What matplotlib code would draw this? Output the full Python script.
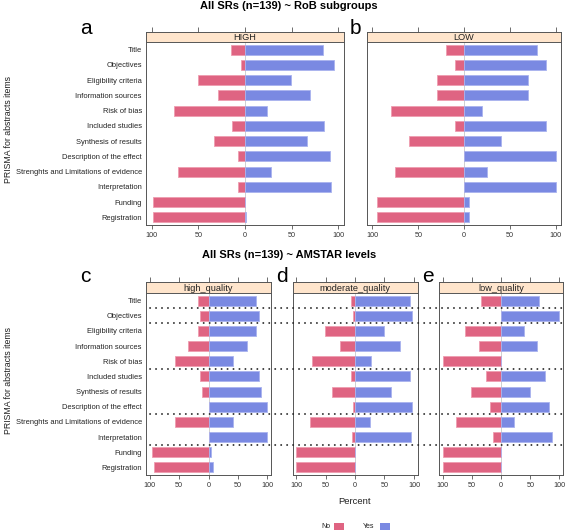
import matplotlib
matplotlib.use("Agg")
import matplotlib.pyplot as plt
from matplotlib.lines import Line2D
from matplotlib.patches import Rectangle
from matplotlib.transforms import blended_transform_factory

plt.rcParams['font.family'] = ['Liberation Sans', 'DejaVu Sans']

items = ["Title", "Objectives", "Eligibility criteria", "Information sources",
         "Risk of bias", "Included studies", "Synthesis of results",
         "Description of the effect", "Strenghts and Limitations of evidence",
         "Interpretation", "Funding", "Registration"]
# group separators (index after which a dotted line is drawn) for AMSTAR panels
group_breaks = [0, 1, 4, 7, 9]

# RoB subgroups
high_no = [15, 4, 50, 29, 76, 14, 33, 8, 72, 7, 99, 98]
high_yes = [84, 95, 49, 70, 24, 85, 66, 91, 28, 92, 0, 1]
low_no = [20, 10, 30, 30, 80, 10, 60, 0, 75, 0, 95, 95]
low_yes = [80, 90, 70, 70, 20, 90, 40, 100, 25, 100, 5, 5]

# AMSTAR levels
hq_no = [18, 15, 18, 34, 57, 15, 11, 0, 57, 0, 95, 92]
hq_yes = [81, 85, 81, 66, 42, 85, 89, 100, 42, 100, 5, 8]
mq_no = [7, 4, 51, 25, 73, 7, 39, 4, 76, 5, 100, 100]
mq_yes = [93, 97, 49, 76, 27, 93, 61, 97, 25, 95, 0, 0]
lq_no = [35, 0, 61, 38, 100, 25, 51, 19, 77, 13, 100, 100]
lq_yes = [65, 100, 39, 62, 0, 75, 49, 82, 23, 88, 0, 0]

tick_vals = [-100, -50, 0, 50, 100]
tick_labels = ["100", "50", "0", "50", "100"]

RED = "#DF6482"
BLUE = "#7A89E2"
RED_E = "#EE9DB0"
BLUE_E = "#A9B3EE"
STRIP = "#FFE5CC"
FRAME = "#555555"

W, H = 566, 530
fig = plt.figure(figsize=(W / 100, H / 100), dpi=100)


def box(x0, y0, x1, y1):
    return [x0 / W, 1 - y1 / H, (x1 - x0) / W, (y1 - y0) / H]


def panel(x0, x1, strip_top, strip_bot, plot_bot, name, no, yes, ylabels):
    sax = fig.add_axes(box(x0, strip_top, x1, strip_bot))
    sax.set_facecolor(STRIP)
    sax.set_xlim(-106, 106)
    sax.set_ylim(0, 1)
    sax.xaxis.tick_top()
    sax.set_xticks(tick_vals)
    sax.set_xticklabels([])
    sax.tick_params(axis='x', length=3.5, width=0.6, color=FRAME, direction='out')
    sax.set_yticks([])
    for s in sax.spines.values():
        s.set_color(FRAME)
        s.set_linewidth(0.7)
    sax.text(0, 0.45, name, ha='center', va='center', fontsize=6.6, color='#222222')

    ax = fig.add_axes(box(x0, strip_bot, x1, plot_bot))
    ypos = list(range(len(items)))
    ax.axvline(0, color='#C8C8C8', lw=0.6, zorder=1)
    ax.barh(ypos, [-v for v in no], height=0.66, color=RED, edgecolor=RED_E, lw=0.6, zorder=2)
    ax.barh(ypos, yes, height=0.66, color=BLUE, edgecolor=BLUE_E, lw=0.6, zorder=2)
    ax.set_xlim(-106, 106)
    ax.set_ylim(len(items) - 0.5, -0.5)
    ax.set_xticks(tick_vals)
    ax.set_xticklabels(tick_labels, fontsize=5.2, color='#333333')
    ax.tick_params(axis='x', length=3, width=0.6, color=FRAME, pad=2)
    ax.set_yticks(ypos)
    if ylabels:
        ax.set_yticklabels(items, fontsize=5.4, color='#222222')
    else:
        ax.set_yticklabels([])
    ax.tick_params(axis='y', length=0, pad=3)
    for s in ax.spines.values():
        s.set_color(FRAME)
        s.set_linewidth(0.7)
    return ax


# top row
axa = panel(146, 344, 32, 42, 225, "HIGH", high_no, high_yes, True)
axb = panel(367, 561, 32, 42, 225, "LOW", low_no, low_yes, False)

# bottom row
axc = panel(146, 271, 282, 293, 475, "high_quality", hq_no, hq_yes, True)
axd = panel(292.5, 417.5, 282, 293, 475, "moderate_quality", mq_no, mq_yes, False)
axe = panel(439, 563, 282, 293, 475, "low_quality", lq_no, lq_yes, False)

# dotted group separators across the AMSTAR panels
tr = blended_transform_factory(fig.transFigure, axc.transData)
for g in group_breaks:
    fig.add_artist(Line2D([150 / W, 563 / W], [g + 0.5, g + 0.5], transform=tr,
                          color='#222222', lw=1.3, linestyle=(0, (0.1, 3.2)),
                          dash_capstyle='round', zorder=5))

# titles
fig.text(289 / W, 1 - 6 / H, "All SRs (n=139) ~ RoB subgroups", ha='center', va='center',
         fontsize=8, fontweight='bold')
fig.text(289 / W, 1 - 255 / H, "All SRs (n=139) ~ AMSTAR levels", ha='center', va='center',
         fontsize=8, fontweight='bold')

# panel letters
for lbl, x, y in [("a", 86, 28), ("b", 355, 28), ("c", 85, 277), ("d", 282, 277), ("e", 428, 277)]:
    fig.text(x / W, 1 - y / H, lbl, ha='center', va='center', fontsize=15)

# y labels
fig.text(9 / W, 1 - 129 / H, "PRISMA for abstracts items", rotation=90, ha='center', va='center',
         fontsize=6.3, color='#222222')
fig.text(9 / W, 1 - 380 / H, "PRISMA for abstracts items", rotation=90, ha='center', va='center',
         fontsize=6.3, color='#222222')

# x label
fig.text(355 / W, 1 - 502 / H, "Percent", ha='center', va='center', fontsize=6.8, color='#222222')

# legend
fig.text(326 / W, 1 - 527 / H, "No", ha='center', va='center', fontsize=5, color='#222222')
fig.add_artist(Rectangle((334 / W, 1 - 530 / H), 10 / W, 7 / H, transform=fig.transFigure,
                         facecolor=RED, edgecolor='none'))
fig.text(369 / W, 1 - 527 / H, "Yes", ha='center', va='center', fontsize=5, color='#222222')
fig.add_artist(Rectangle((380 / W, 1 - 530 / H), 10 / W, 7 / H, transform=fig.transFigure,
                         facecolor=BLUE, edgecolor='none'))

fig.savefig("out.png", dpi=100)
